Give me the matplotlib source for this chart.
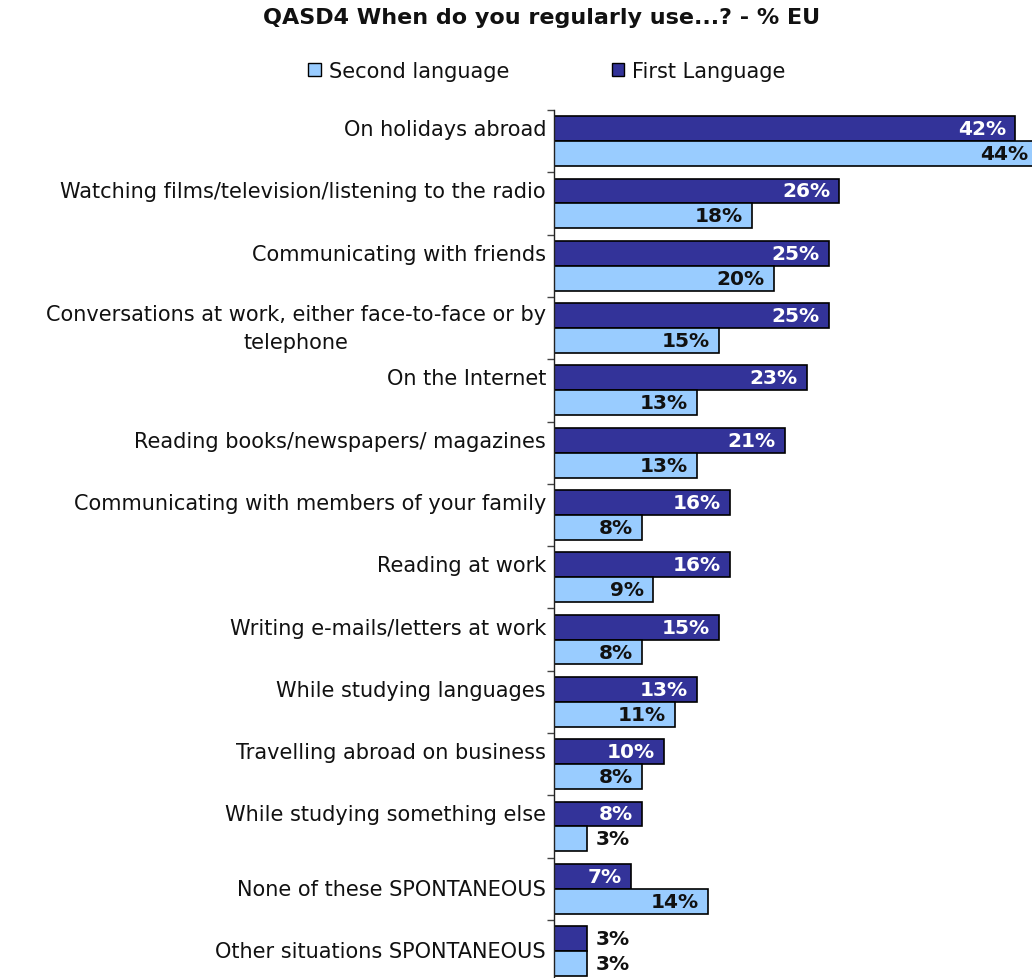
import matplotlib
matplotlib.use("Agg")
import matplotlib.pyplot as plt
import matplotlib.transforms as mtransforms
from matplotlib.patches import Patch

# Survey data: QASD4 "When do you regularly use...?" (% EU)
categories = [
    "On holidays abroad",
    "Watching films/television/listening to the radio",
    "Communicating with friends",
    "Conversations at work, either face-to-face or by\ntelephone",
    "On the Internet",
    "Reading books/newspapers/ magazines",
    "Communicating with members of your family",
    "Reading at work",
    "Writing e-mails/letters at work",
    "While studying languages",
    "Travelling abroad on business",
    "While studying something else",
    "None of these SPONTANEOUS",
    "Other situations SPONTANEOUS",
]
first_language = [42, 26, 25, 25, 23, 21, 16, 16, 15, 13, 10, 8, 7, 3]
second_language = [44, 18, 20, 15, 13, 13, 8, 9, 8, 11, 8, 3, 14, 3]

title = "QASD4 When do you regularly use...? - % EU"
series_names = ["Second language", "First Language"]

DARK = "#333399"
LIGHT = "#99CCFF"
TEXT = "#111111"

W, H = 1032, 979
fig = plt.figure(figsize=(W / 100, H / 100), dpi=100)


def px(v):
    """pixels -> points"""
    return v / 100 * 72


# plot area in pixel terms (the longest bar runs just past the right edge)
left_px = 554
px_per_pct = 10.98
xmax = 44
right_px = left_px + xmax * px_per_pct
top_px = 111
row_px = 62.3
bottom_px = top_px + row_px * len(categories)
ax = fig.add_axes([left_px / W, 1 - bottom_px / H,
                   (right_px - left_px) / W, (bottom_px - top_px) / H])

n = len(categories)
ys = list(range(n))
bar_h = 0.40
ax.barh([y - bar_h / 2 for y in ys], first_language, height=bar_h,
        color=DARK, edgecolor="black", linewidth=1.2, zorder=2)
ax.barh([y + bar_h / 2 for y in ys], second_language, height=bar_h,
        color=LIGHT, edgecolor="black", linewidth=1.2, zorder=2)

ax.set_xlim(0, xmax)
ax.set_ylim(n - 0.5, -0.5)

# value labels: inside the bar end, or just outside for very short bars
pad_in = mtransforms.offset_copy(ax.transData, fig=fig, x=-px(9), units="points")
pad_out = mtransforms.offset_copy(ax.transData, fig=fig, x=px(9), units="points")
val_font = dict(fontsize=14.5, fontweight="bold", family="DejaVu Sans")


def value_label(v, y, inside_color):
    if v >= 5:
        ax.text(v, y, f"{v}%", ha="right", va="center", color=inside_color,
                transform=pad_in, **val_font)
    else:
        ax.text(v, y, f"{v}%", ha="left", va="center", color=TEXT,
                transform=pad_out, **val_font)


for y, v in zip(ys, first_language):
    value_label(v, y - bar_h / 2, "white")
for y, v in zip(ys, second_language):
    value_label(v, y + bar_h / 2, TEXT)

# category labels, right-aligned against the axis
for y, label in zip(ys, categories):
    lift = 0 if ("\n" in label or "SPONTANEOUS" in label) else 12
    tr = mtransforms.offset_copy(ax.transData, fig=fig,
                                 x=-px(8), y=px(lift), units="points")
    ax.text(0, y, label, ha="right", va="center", fontsize=15, color=TEXT,
            transform=tr, multialignment="center", linespacing=1.5)

# axis styling
for s in ["top", "right", "bottom"]:
    ax.spines[s].set_visible(False)
ax.spines["left"].set_linewidth(1.0)
ax.spines["left"].set_color("#222222")
ax.set_xticks([])
ax.set_yticks([y - 0.5 for y in ys] + [n - 0.5])
ax.set_yticklabels([])
ax.tick_params(axis="y", direction="out", length=5, width=1.0, color="#444444")

fig.text(542 / W, 1 - 18 / H, title, ha="center", va="center",
         fontsize=16, fontweight="bold", color=TEXT)

handles = [Patch(facecolor=LIGHT, edgecolor="black", linewidth=1.0),
           Patch(facecolor=DARK, edgecolor="black", linewidth=1.0)]
fig.legend(handles, series_names, loc="center", bbox_to_anchor=(547 / W, 1 - 72 / H),
           ncol=2, frameon=False, fontsize=15, handlelength=0.6, handleheight=0.6,
           handletextpad=0.4, columnspacing=4.9, labelcolor=TEXT)

fig.savefig("out.png", dpi=100)
